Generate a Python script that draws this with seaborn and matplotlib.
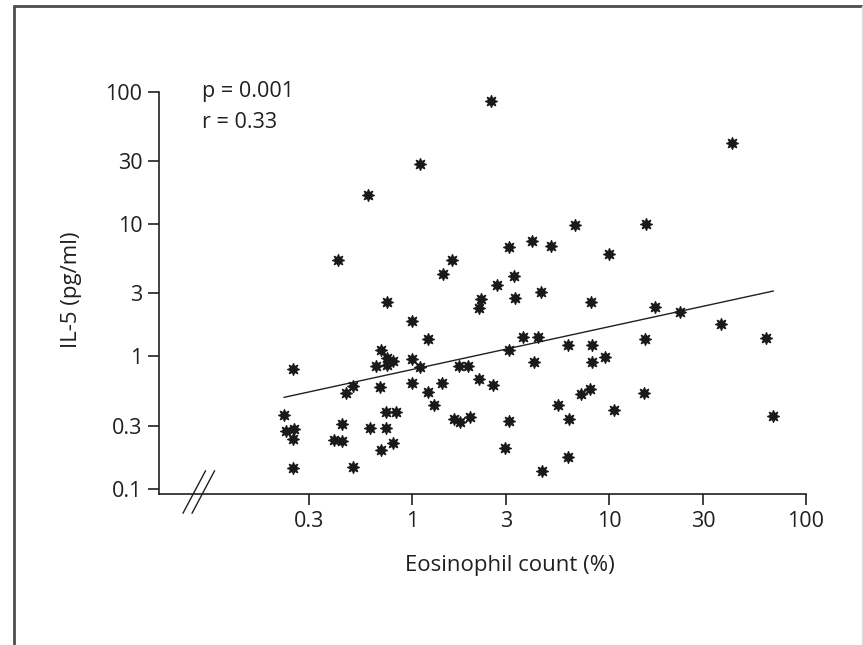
import matplotlib
matplotlib.use('Agg')
import matplotlib.pyplot as plt
import seaborn as sns
import pandas as pd
from matplotlib.lines import Line2D

# Eosinophil count (%) and IL-5 (pg/ml)
eos_count = [
    0.42, 0.60, 1.10, 1.59, 1.43, 2.52, 41.9, 3.12, 4.05, 5.08,
    6.70, 15.4, 10.0, 3.28, 2.70, 0.75, 1.00, 1.20, 0.70, 0.75,
    0.80, 1.00, 0.66, 0.75, 0.25, 1.10, 1.74, 1.92, 0.50, 0.46,
    0.69, 1.00, 1.42, 1.20, 1.30, 0.224, 0.74, 0.83, 0.44, 0.61,
    0.74, 0.23, 0.253, 0.25, 0.40, 0.44, 0.80, 0.70, 1.64, 1.75,
    1.97, 0.25, 0.50, 2.24, 2.18, 3.35, 4.54, 8.06, 3.64, 4.34,
    3.12, 6.20, 8.18, 15.3, 9.60, 4.17, 8.23, 2.20, 2.57, 7.99,
    7.18, 15.1, 5.48, 10.6, 3.10, 6.28, 2.95, 6.20, 4.57, 17.2,
    23.0, 37.0, 62.8, 68.3,
]
il5_level = [
    5.40, 16.8, 28.8, 5.35, 4.20, 86.0, 41.0, 6.75, 7.50, 6.90,
    9.90, 10.1, 6.00, 4.07, 3.50, 2.60, 1.86, 1.35, 1.11, 0.98,
    0.93, 0.96, 0.85, 0.86, 0.80, 0.83, 0.84, 0.845, 0.60, 0.525,
    0.59, 0.63, 0.63, 0.54, 0.426, 0.36, 0.377, 0.38, 0.31, 0.287,
    0.288, 0.275, 0.28, 0.237, 0.233, 0.23, 0.223, 0.195, 0.334, 0.317,
    0.35, 0.142, 0.145, 2.73, 2.31, 2.75, 3.05, 2.60, 1.41, 1.41,
    1.12, 1.22, 1.22, 1.36, 0.99, 0.90, 0.90, 0.68, 0.61, 0.566,
    0.52, 0.53, 0.43, 0.395, 0.322, 0.334, 0.204, 0.174, 0.135, 2.37,
    2.18, 1.76, 1.37, 0.355,
]

# regression line end points (log-log fit as drawn)
fit_x = [0.224, 68.3]
fit_y = [0.49, 3.13]

stats_text = ['p = 0.001', 'r = 0.33']

x_ticks = [0.3, 1, 3, 10, 30, 100]
x_ticklabels = ['0.3', '1', '3', '10', '30', '100']
y_ticks = [0.1, 0.3, 1, 3, 10, 30, 100]
y_ticklabels = ['0.1', '0.3', '1', '3', '10', '30', '100']

df = pd.DataFrame({'eos': eos_count, 'il5': il5_level})
fit_df = pd.DataFrame({'x': fit_x, 'y': fit_y})

sns.set_style('ticks')
plt.rcParams['font.family'] = ['Open Sans', 'DejaVu Sans']
ink = '#231f20'
fsize = 15.5

fig = plt.figure(figsize=(8.63, 6.45), dpi=100)
ax = fig.add_axes([159 / 863, 1 - 494 / 645, (806 - 159) / 863, (494 - 92.3) / 645])

sns.scatterplot(data=df, x='eos', y='il5', ax=ax, marker=(8, 1, 0), s=70,
                color='#1a1a1a', edgecolor='#1a1a1a', linewidth=1.0, zorder=3)
sns.lineplot(data=fit_df, x='x', y='y', ax=ax, color=ink, linewidth=1.0, zorder=2)

ax.set_xscale('log')
ax.set_yscale('log')
ax.set_xlim(0.052, 100)
ax.set_ylim(0.0909, 100)
ax.set_xticks(x_ticks)
ax.set_xticklabels(x_ticklabels)
ax.set_yticks(y_ticks)
ax.set_yticklabels(y_ticklabels)
ax.minorticks_off()

sns.despine(ax=ax)
for side in ['left', 'bottom']:
    ax.spines[side].set_linewidth(1.2)
    ax.spines[side].set_color(ink)
ax.tick_params(axis='both', length=8, width=1.2, color=ink, labelsize=fsize,
               labelcolor=ink, pad=4)

ax.set_xlabel('Eosinophil count (%)', fontsize=fsize + 0.5, color=ink)
ax.set_ylabel('IL-5 (pg/ml)', fontsize=fsize + 0.5, color=ink)
ax.xaxis.set_label_coords((510 - 159) / 647, -0.152)
ax.yaxis.set_label_coords((82 - 159) / 647, (494 - 290) / 402)

# axis break marks
for dx in [0.0, 0.014]:
    ax.plot([0.037 + dx, 0.072 + dx], [-0.048, 0.058], transform=ax.transAxes,
            color=ink, linewidth=1.0, clip_on=False)

fig.text(202 / 863, 1 - 97 / 645, stats_text[0], fontsize=fsize, color=ink, va='baseline')
fig.text(202 / 863, 1 - 128 / 645, stats_text[1], fontsize=fsize, color=ink, va='baseline')

# page frame
frame_kw = dict(transform=fig.transFigure, color='#4d4d4d', linewidth=2)
fig.add_artist(Line2D([13.5 / 863, 13.5 / 863], [0, 1 - 6 / 645], **frame_kw))
fig.add_artist(Line2D([13.5 / 863, 1], [1 - 6 / 645, 1 - 6 / 645], **frame_kw))
fig.add_artist(Line2D([862 / 863, 862 / 863], [0, 1 - 6 / 645], transform=fig.transFigure,
                      color='#dddddd', linewidth=1))

fig.savefig('out.png', dpi=100)
